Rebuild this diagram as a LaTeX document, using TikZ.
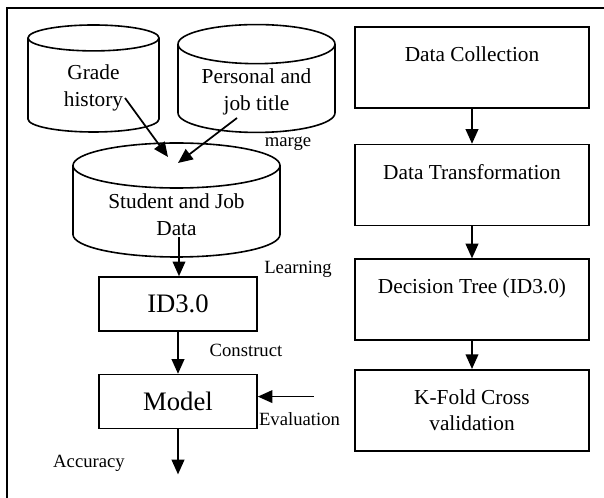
\documentclass[tikz,border=0pt]{standalone}
\usepackage{fontspec}
\setmainfont{Liberation Serif}
\usetikzlibrary{shapes,arrows.meta,calc,positioning}
\tikzset{
    -{Triangle[length=11pt,width=9.5pt]},
    x=0.75pt,y=-0.75pt,
    every edge/.append style={line width=1.3pt},
    box/.style ={rectangle, draw, line width=1.2pt, align=center, minimum width=175.5pt, minimum height=60.75pt, font=\fontsize{16}{20}\selectfont},
    algo/.style ={rectangle, draw, line width=1.2pt, minimum width=118.5pt, minimum height=40.5pt, font=\fontsize{20}{24}\selectfont},
    db/.style ={cylinder, shape border rotate=90, anchor=shape center, draw, line width=1.2pt, align=center, font=\fontsize{16}{20}\selectfont},
    lbl/.style = {inner sep=0pt, font=\fontsize{14}{16}\selectfont}
}
\begin{document}
\begin{tikzpicture}
    \useasboundingbox (0,0) rectangle (604,498);
    \clip (0,0) rectangle (604,498);
    \draw[-,line width=1.2pt] (7,8) rectangle (620,520);

    % data sources
    \node[db, aspect=0.38, minimum width=98.25pt, minimum height=80.25pt] (grade) at (93.5,78.5) {Grade\\history};
    \node[db, aspect=0.33, minimum width=117.75pt, minimum height=80.25pt] (personal) at (256.5,78.5) {Personal and\\job title};
    \node[db, aspect=0.31, minimum width=155.25pt, minimum height=85.5pt] (student) at (176.5,200) {Student and Job\\Data};

    % learning steps
    \node[algo] (id3) at (178,304) {ID3.0};
    \node[algo] (model) [below =31.5pt of id3] {Model};
    \coordinate (studout) at ([shift={(2.5,37)}]student.shape center);
    \coordinate (evalin) at ([shift={(56,-5)}]model.east);
    \coordinate (accout) at ([shift={(0,45)}]model.south);

    \path ([shift={(31.5,19.5)}]grade.shape center) edge ([shift={(-8.5,-43)}]student.shape center);
    \path ([shift={(-19.5,39.5)}]personal.shape center) edge ([shift={(1.5,-37)}]student.shape center);
    \path (studout) edge (id3.north -| studout);
    \path (id3) edge (model);
    \path (evalin) edge (model.east |- evalin);
    \path (model) edge (accout);

    \node[lbl] (marge) at (288,144) {marge};
    \node[lbl] (learn) at (298,269) {Learning};
    \node[lbl] (constr) at (246,350) {Construct};
    \node[lbl] (evalu) at (299.5,419) {Evaluation};
    \node[lbl] (accur) at (89,463) {Accuracy};

    % method steps
    \node[box] (dc) at (472,67.5) {Data Collection\\ \mbox{}};
    \node[box] (dt) [below =26.25pt of dc] {Data Transformation\\ \mbox{}};
    \node[box] (dtree) [below =24pt of dt] {Decision Tree (ID3.0)\\ \mbox{}};
    \node[box] (kfold) [below =21pt of dtree] {K-Fold Cross\\validation};

    \path (dc) edge (dt);
    \path (dt) edge (dtree);
    \path (dtree) edge (kfold);
\end{tikzpicture}
\end{document}
